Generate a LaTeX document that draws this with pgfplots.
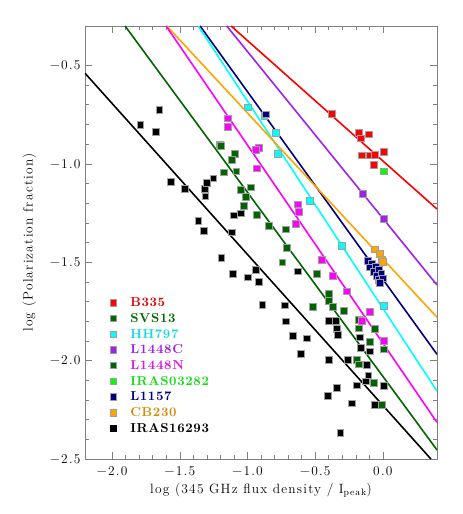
\documentclass[border=0pt]{standalone}
\usepackage{fontspec}
\usepackage{pgfplots}
\pgfplotsset{compat=1.18}
\newfontfamily\lsfont{Latin Modern Roman}[LetterSpace=9]
\newfontfamily\lgfont{lmroman10-bold.otf}[LetterSpace=5]
\definecolor{dgreen}{RGB}{0,100,0}
\definecolor{lpurple}{RGB}{160,32,240}
\definecolor{lnavy}{RGB}{0,0,128}
\definecolor{lorange}{RGB}{255,165,0}
\definecolor{lcyan}{RGB}{0,255,255}
\definecolor{lmag}{RGB}{255,0,255}
\definecolor{lred}{RGB}{255,0,0}
\definecolor{lgreen}{RGB}{0,255,0}
\definecolor{torange}{RGB}{214,140,10}
\definecolor{tcyan}{RGB}{20,220,230}
\definecolor{tmag}{RGB}{225,20,225}
\definecolor{tgreen}{RGB}{20,220,20}
\definecolor{tred}{RGB}{225,0,0}

\pgfplotstableread{
x y
-1.651 -0.727
-1.791 -0.800
-1.675 -0.837
-1.564 -1.091
-1.463 -1.128
-1.315 -1.128
-1.298 -1.096
-1.252 -1.074
-1.311 -1.165
-1.363 -1.291
-1.320 -1.340
-1.099 -1.262
-1.047 -1.252
-1.116 -1.348
-1.193 -1.477
-1.106 -1.557
-0.938 -1.540
-0.995 -1.577
-0.914 -1.599
-0.890 -1.718
-0.727 -1.719
-0.714 -1.800
-0.668 -1.875
-0.559 -1.887
-0.606 -1.965
-0.631 -1.546
-0.399 -1.799
-0.350 -1.797
-0.340 -1.840
-0.335 -1.867
-0.399 -1.997
-0.258 -1.994
-0.172 -1.882
-0.160 -1.936
-0.094 -1.953
-0.108 -2.075
-0.123 -2.105
-0.118 -2.023
-0.190 -2.126
-0.340 -2.138
-0.409 -2.179
-0.232 -2.217
-0.062 -2.224
0.005 -2.129
-0.315 -2.365
}\blackdata

\pgfplotstableread{
x y
-1.202 -0.901
-1.197 -0.910
-1.094 -0.949
-1.116 -0.981
-1.173 -1.043
-1.082 -1.038
-1.052 -1.132
-0.975 -1.120
-1.012 -1.167
-1.027 -1.213
-0.931 -1.260
-0.842 -1.316
-0.714 -1.333
-0.707 -1.425
-0.742 -1.501
-0.488 -1.557
-0.520 -1.726
-0.399 -1.662
-0.399 -1.696
-0.372 -1.726
-0.291 -1.745
-0.180 -1.794
-0.180 -1.836
-0.062 -1.840
-0.094 -1.904
0.005 -1.943
-0.190 -1.997
-0.180 -2.019
-0.069 -2.112
-0.010 -2.226
}\greendata

\pgfplotstableread{
x y
-1.148 -0.769
-1.145 -0.812
-0.916 -0.918
-0.938 -0.930
-0.931 -1.023
-0.631 -1.206
-0.621 -1.243
-0.641 -1.306
-0.451 -1.489
-0.372 -1.569
-0.266 -1.648
-0.099 -1.752
-0.155 -1.799
0.005 -1.899
}\magdata

\pgfplotstableread{
x y
-1.000 -0.713
-0.875 -0.757
-0.791 -0.842
-0.774 -0.949
-0.537 -1.188
-0.303 -1.418
0.005 -1.723
}\cyandata

\pgfplotstableread{
x y
-0.864 -0.749
-0.114 -1.493
-0.081 -1.506
-0.094 -1.526
-0.052 -1.523
-0.069 -1.548
-0.032 -1.540
-0.044 -1.570
-0.012 -1.557
-0.027 -1.591
-0.003 -1.582
-0.020 -1.604
}\navydata

\pgfplotstableread{
x y
-0.062 -1.435
-0.024 -1.457
-0.010 -1.487
-0.001 -1.497
}\orangedata

\pgfplotstableread{
x y
-0.148 -1.154
0.005 -1.281
}\purpledata

\pgfplotstableread{
x y
-0.377 -0.747
-0.177 -0.842
-0.103 -0.850
-0.165 -0.871
-0.153 -0.957
-0.094 -0.957
-0.059 -0.956
0.005 -0.940
-0.066 -1.006
}\reddata

\begin{document}
\begin{tikzpicture}
\begin{axis}[
  name=ax,
  scale only axis,
  width=352bp, height=433bp,
  xmin=-2.2, xmax=0.4, ymin=-2.5, ymax=-0.3,
  xtick={-2,-1.5,-1,-0.5,0},
  xticklabels={−2.0,−1.5,−1.0,−0.5,0.0},
  ytick={-2.5,-2,-1.5,-1,-0.5},
  yticklabels={−2.5,−2.0,−1.5,−1.0,−0.5},
  minor x tick num=4, minor y tick num=4,
  tick align=inside,
  major tick length=7bp, minor tick length=4bp,
  every tick/.style={gray, line width=0.5pt},
  axis line style={gray, line width=0.6pt},
  tick label style={font=\lsfont\fontsize{13.5}{15}\selectfont},
  xticklabel style={yshift=-4bp},
  yticklabel style={xshift=-1bp},
  label style={font=\lsfont\fontsize{13.5}{15}\selectfont},
  xlabel={log (345 GHz flux density / I\textsubscript{peak})},
  ylabel={log (Polarization fraction)},
  xlabel style={yshift=-1bp},
  ylabel style={yshift=7bp},
  clip=true,
  every axis plot/.append style={line width=1.6pt},
  legend cell align=left,
  legend style={at={(0.063,0.384)}, anchor=north west, draw=none, fill=none,
    font=\lgfont\fontsize{13}{15}\selectfont, row sep=0pt,
    /tikz/every odd column/.style={column sep=12bp},
    nodes={inner sep=1.5bp, text height=10.3bp, text depth=2.4bp}},
]
% fitted lines
\addplot[forget plot, lred, no marks] coordinates {(-1.121,-0.3) (0.4,-1.23)};
\addplot[forget plot, lpurple, no marks] coordinates {(-1.153,-0.3) (0.4,-1.616)};
\addplot[forget plot, lnavy, no marks] coordinates {(-1.35,-0.3) (0.4,-1.968)};
\addplot[forget plot, lcyan, no marks] coordinates {(-1.363,-0.3) (0.4,-2.155)};
\addplot[forget plot, lorange, no marks] coordinates {(-1.596,-0.3) (0.4,-1.78)};
\addplot[forget plot, lmag, no marks] coordinates {(-1.601,-0.3) (0.4,-2.314)};
\addplot[forget plot, dgreen, no marks] coordinates {(-1.904,-0.3) (0.4,-2.454)};
\addplot[forget plot, black, no marks] coordinates {(-2.2,-0.54) (0.355,-2.5)};
% points
\pgfplotsset{pts/.style={forget plot, only marks, mark=square*, mark size=3.4bp,
  mark options={draw=gray!75, line width=0.6pt, fill=#1}}}
\addplot[pts=black] table {\blackdata};
\addplot[pts=dgreen] table {\greendata};
\addplot[pts=lmag] table {\magdata};
\addplot[pts=lcyan] table {\cyandata};
\addplot[pts=lnavy] table {\navydata};
\addplot[pts=lorange] table {\orangedata};
\addplot[pts=lpurple] table {\purpledata};
\addplot[pts=lred] table {\reddata};
\addplot[pts=lgreen] coordinates {(0.005,-1.038)};
% legend
\pgfplotsset{lg/.style={only marks, mark=square*, mark size=3.2bp,
  mark options={draw=gray!75, line width=0.6pt, fill=#1}}}
\addlegendimage{lg=lred}
\addlegendimage{lg=dgreen}
\addlegendimage{lg=lcyan}
\addlegendimage{lg=lpurple}
\addlegendimage{lg=dgreen}
\addlegendimage{lg=lgreen}
\addlegendimage{lg=lnavy}
\addlegendimage{lg=lorange}
\addlegendimage{only marks, mark=square*, mark size=2.4bp, mark options={draw=black, fill=black}}
\legend{\textcolor{tred}{B335}, \textcolor{dgreen}{SVS13}, \textcolor{tcyan}{HH797},
  \textcolor{lpurple}{L1448C}, \textcolor{tmag}{L1448N}, \textcolor{tgreen}{IRAS03282},
  \textcolor{lnavy}{L1157}, \textcolor{torange}{CB230}, \textcolor{black}{IRAS16293}}
\end{axis}
\pgfresetboundingbox
\path[use as bounding box] ([xshift=-85bp,yshift=-55bp]ax.south west) rectangle ([xshift=26bp,yshift=26bp]ax.north east);
\end{tikzpicture}
\end{document}
